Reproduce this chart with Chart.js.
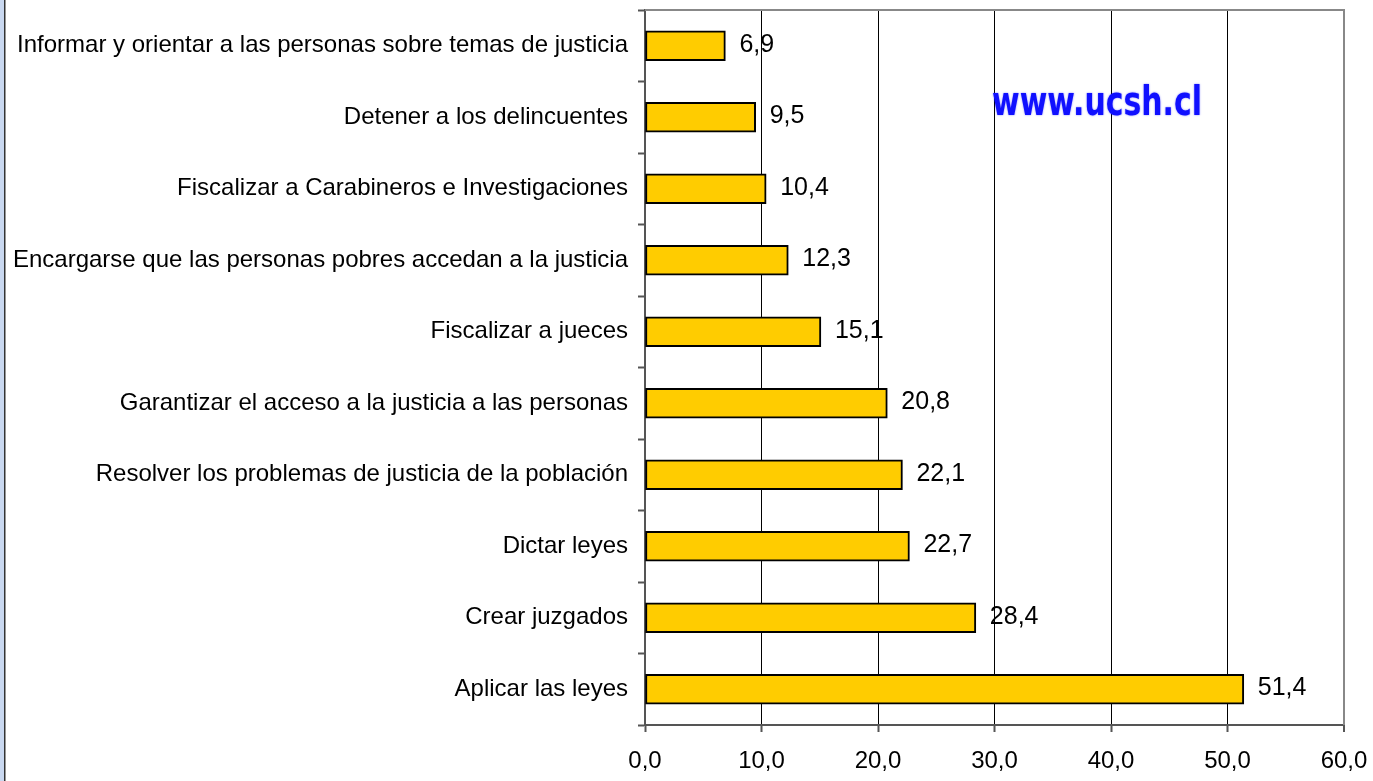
<!DOCTYPE html>
<html>
<head>
<meta charset="utf-8">
<script src="https://cdn.jsdelivr.net/npm/chart.js@4/dist/chart.umd.min.js"></script>
<style>
  html, body { margin: 0; padding: 0; background: #fff; }
  #wrap { width: 1373px; height: 781px; position: relative; }
</style>
</head>
<body>
<div id="wrap"><canvas id="c" width="1373" height="781"></canvas></div>
<script>
// categories, top to bottom
const categories = [
  "Informar y orientar a las personas sobre temas de justicia",
  "Detener a los delincuentes",
  "Fiscalizar a Carabineros e Investigaciones",
  "Encargarse que las personas pobres accedan a la justicia",
  "Fiscalizar a jueces",
  "Garantizar el acceso a la justicia a las personas",
  "Resolver los problemas de justicia de la población",
  "Dictar leyes",
  "Crear juzgados",
  "Aplicar las leyes"
];
const values = [6.9, 9.5, 10.4, 12.3, 15.1, 20.8, 22.1, 22.7, 28.4, 51.4];
const xTicks = [0, 10, 20, 30, 40, 50, 60];
const watermark = "www.ucsh.cl";

const fmt = (v) => v.toFixed(1).replace(".", ",");

// frame, top/right border, value labels and watermark
const decor = {
  id: "decor",
  beforeDraw(chart) {
    const ctx = chart.ctx;
    ctx.save();
    ctx.fillStyle = "#c9d8f0";
    ctx.fillRect(0, 0, 4, chart.height);
    ctx.fillStyle = "#333";
    ctx.fillRect(4, 0, 1.5, chart.height);
    ctx.restore();
  },
  afterDatasetsDraw(chart) {
    const ctx = chart.ctx;
    const a = chart.chartArea;
    ctx.save();
    // top and right border
    ctx.strokeStyle = "#888";
    ctx.lineWidth = 2;
    ctx.beginPath();
    ctx.moveTo(a.left, a.top);
    ctx.lineTo(a.right, a.top);
    ctx.lineTo(a.right, a.bottom);
    ctx.stroke();

    // value labels
    ctx.fillStyle = "#000";
    ctx.font = "25px 'Liberation Sans', Arial, sans-serif";
    ctx.textBaseline = "middle";
    ctx.textAlign = "left";
    chart.getDatasetMeta(0).data.forEach((bar, i) => {
      ctx.fillText(fmt(values[i]), bar.x + 14, bar.y - 1);
    });

    // watermark
    ctx.font = "bold 40px 'DejaVu Sans', Verdana, sans-serif";
    const w = ctx.measureText(watermark).width;
    ctx.translate(992, 115);
    ctx.scale(210 / w, 1);
    ctx.fillStyle = "#1010ff";
    ctx.shadowColor = "rgba(0,0,255,0.5)";
    ctx.shadowBlur = 2;
    ctx.textBaseline = "alphabetic";
    ctx.fillText(watermark, 0, 0);
    ctx.restore();
  }
};

new Chart(document.getElementById("c"), {
  type: "bar",
  data: {
    labels: categories,
    datasets: [{
      data: values,
      backgroundColor: "#ffcc00",
      borderColor: "#000",
      borderWidth: 2,
      borderSkipped: false,
      barThickness: 30
    }]
  },
  options: {
    indexAxis: "y",
    responsive: false,
    animation: false,
    layout: { padding: { top: 10, right: 29, left: 0, bottom: 0 } },
    plugins: { legend: { display: false }, tooltip: { enabled: false } },
    scales: {
      x: {
        min: 0,
        max: 60,
        afterBuildTicks(scale) {
          scale.ticks = xTicks.map((v) => ({ value: v }));
        },
        afterFit(scale) {
          scale.height = 56;
          scale.paddingLeft = 0;
          scale.paddingRight = 0;
        },
        border: { color: "#555", width: 2 },
        grid: {
          color: (c) => c.tick && c.tick.value === 0 ? "rgba(0,0,0,0)" :
                        (c.tick && c.tick.value === 60 ? "#888" : "#000"),
          lineWidth: (c) => c.tick && c.tick.value === 60 ? 2 : 1,
          tickColor: "#555",
          tickLength: 7,
          tickWidth: 2
        },
        ticks: {
          color: "#000",
          padding: 15,
          maxRotation: 0,
          font: { family: "'Liberation Sans', Arial, sans-serif", size: 24 },
          callback: (v) => fmt(v)
        }
      },
      y: {
        afterFit(scale) {
          scale.width = 645;
          scale.paddingTop = 0;
          scale.paddingBottom = 0;
        },
        border: { color: "#555", width: 2 },
        grid: {
          offset: true,
          drawOnChartArea: false,
          tickColor: "#555",
          tickLength: 7,
          tickWidth: 2
        },
        ticks: {
          color: "#000",
          padding: 10,
          autoSkip: false,
          font: { family: "'Liberation Sans', Arial, sans-serif", size: 24 }
        }
      }
    }
  },
  plugins: [decor]
});
</script>
</body>
</html>
